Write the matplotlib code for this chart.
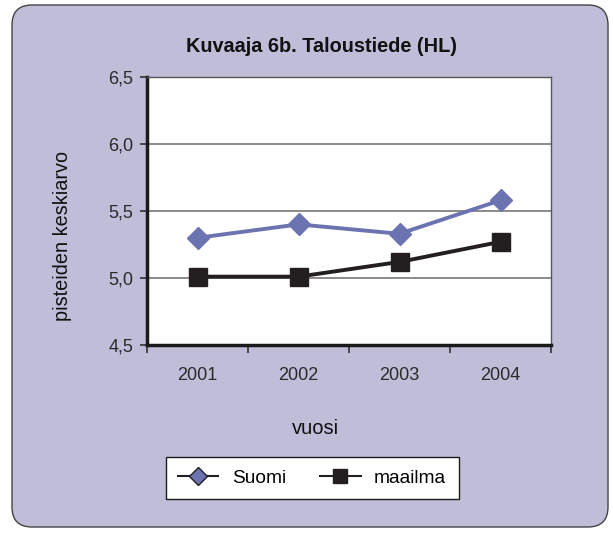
import matplotlib.pyplot as plt
from matplotlib.patches import FancyBboxPatch
from matplotlib.transforms import IdentityTransform

plt.rcParams["font.family"] = ["Liberation Sans", "DejaVu Sans"]

# data
years = ["2001", "2002", "2003", "2004"]
suomi = [5.30, 5.40, 5.33, 5.58]
maailma = [5.01, 5.01, 5.12, 5.27]
yticks = [4.5, 5.0, 5.5, 6.0, 6.5]
ytick_labels = ["4,5", "5,0", "5,5", "6,0", "6,5"]

bg = "#c0bdd9"
blue = "#6b74b0"
dark = "#231f20"
txt = "#2a2a2a"

fig = plt.figure(figsize=(6.13, 5.33), dpi=100)
fig.patch.set_facecolor("white")

# rounded lavender frame (pixel coords)
frame = FancyBboxPatch((12, 6), 596, 522, boxstyle="round,pad=0,rounding_size=20",
                       transform=IdentityTransform(), facecolor=bg,
                       edgecolor="#444444", linewidth=1.0, zorder=-5)
fig.patches.append(frame)

ax = fig.add_axes([147 / 613, 188 / 533, 404 / 613, 268 / 533])
ax.set_facecolor("white")

x = list(range(1, len(years) + 1))
ax.plot(x, suomi, color=blue, linewidth=2.8, marker="D", markersize=11,
        label="Suomi", zorder=3)
ax.plot(x, maailma, color=dark, linewidth=2.8, marker="s", markersize=13.5,
        label="maailma", zorder=3)

ax.set_xlim(0.5, 4.5)
ax.set_ylim(4.5, 6.5)
ax.set_yticks(yticks)
ax.set_yticklabels(ytick_labels, fontsize=13, color=txt)
ax.set_xticks([0.5, 1.5, 2.5, 3.5, 4.5])
ax.set_xticklabels([])
ax.set_xticks(x, minor=True)
ax.set_xticklabels(years, minor=True, fontsize=13, color=txt)
ax.tick_params(axis="x", which="minor", length=0, pad=16)
ax.tick_params(axis="x", which="major", length=6, width=1.2, color="#333333")
ax.tick_params(axis="y", length=5, width=1.2, color="#333333", pad=5)

ax.yaxis.grid(True, color="#777777", linewidth=1.2)
ax.set_axisbelow(True)
for s in ["left", "bottom"]:
    ax.spines[s].set_linewidth(2.5)
    ax.spines[s].set_color("#1a1a1a")
for s in ["top", "right"]:
    ax.spines[s].set_linewidth(1.0)
    ax.spines[s].set_color("#555555")

fig.text(63 / 613, 1 - 236 / 533, "pisteiden keskiarvo", rotation=90,
         ha="center", va="center", fontsize=14.3, color="#111111")
fig.text(315 / 613, 1 - 428 / 533, "vuosi", ha="center", va="center",
         fontsize=14.5, color="#111111")
fig.text(322 / 613, 1 - 46 / 533, "Kuvaaja 6b. Taloustiede (HL)", ha="center",
         va="center", fontsize=14.3, fontweight="bold", color="#111111")

h1, = ax.plot([], [], color=dark, linewidth=1.5, marker="D", markersize=9,
              markerfacecolor=blue, markeredgecolor=dark)
h2, = ax.plot([], [], color=dark, linewidth=1.5, marker="s", markersize=10,
              markerfacecolor=dark, markeredgecolor=dark)
leg = fig.legend([h1, h2], ["Suomi", "maailma"], loc="center",
                 bbox_to_anchor=(312 / 613, 1 - 478 / 533), ncol=2,
                 fontsize=13.8, frameon=True, fancybox=False, handlelength=2.1,
                 handletextpad=0.7, columnspacing=1.8, borderpad=0.65,
                 borderaxespad=0, framealpha=1)
leg.get_frame().set_edgecolor("#1a1a1a")
leg.get_frame().set_linewidth(1.0)

fig.savefig("out.png", dpi=100, facecolor=fig.get_facecolor())
